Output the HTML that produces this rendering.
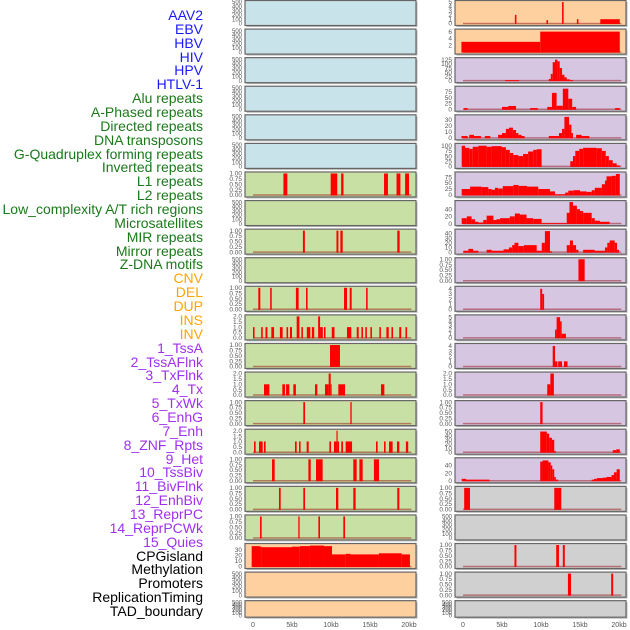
<!DOCTYPE html>
<html><head><meta charset="utf-8">
<style>
html,body{margin:0;padding:0;background:#fff;}
#wrap{position:relative;width:630px;height:630px;overflow:hidden;font-family:"Liberation Sans",sans-serif;}
.lab{position:absolute;right:427px;font-size:14px;line-height:14px;white-space:nowrap;}
svg{position:absolute;left:0;top:0;}
</style></head>
<body>
<div id="wrap">
<svg id="chart" width="630" height="630"></svg>
</div>
<script>
// ---- labels ----
const labelNames = ["AAV2","EBV","HBV","HIV","HPV","HTLV-1","Alu repeats","A-Phased repeats","Directed repeats","DNA transposons","G-Quadruplex forming repeats","Inverted repeats","L1 repeats","L2 repeats","Low_complexity A/T rich regions","Microsatellites","MIR repeats","Mirror repeats","Z-DNA motifs","CNV","DEL","DUP","INS","INV","1_TssA","2_TssAFlnk","3_TxFlnk","4_Tx","5_TxWk","6_EnhG","7_Enh","8_ZNF_Rpts","9_Het","10_TssBiv","11_BivFlnk","12_EnhBiv","13_ReprPC","14_ReprPCWk","15_Quies","CPGisland","Methylation","Promoters","ReplicationTiming","TAD_boundary"];
const labelGroups = ["#1a1aff","#1a7a1a","#ffa500","#a030f0","#000"];
function groupOf(i){return i<6?0:i<19?1:i<24?2:i<39?3:4;}

// ---- panel data: [startKb, endKb, value] ----
const L7=[[3.9,4.4,1],[9.96,10.8,1],[11.3,11.6,1],[16.8,17.3,1],[18.4,18.9,1],[19.5,20.0,1]];
const L9=[[6.4,6.65,1],[10.7,10.95,1],[11.2,11.5,1],[18.5,18.8,1]];
const L11=[[0.68,0.94,1],[2.2,2.4,1],[5.5,5.85,1],[6.8,7.0,1],[11.67,12.05,1],[12.4,12.65,1],[14.5,14.7,1]];
const L12=[[0.0,0.2,1],[1.05,1.25,1],[1.6,1.85,1],[2.35,2.7,1],[3.45,3.8,1],[4.3,4.5,1],[4.74,5.0,1],[5.6,5.95,2],[6.2,6.4,1],[6.9,7.35,1],[7.55,7.85,1],[8.35,8.6,2],[8.6,8.95,1],[9.1,9.3,1],[10.1,10.45,1],[12.05,12.6,1],[13.3,13.55,1],[13.9,14.1,1],[14.4,14.6,1],[15.05,15.25,1],[16.2,16.4,1],[17.1,17.4,1],[17.75,17.95,1],[18.75,19.0,1],[19.55,19.75,1]];
const L13=[[9.87,11.15,1]];
const L14=[[1.41,2.1,1],[3.76,4.1,1],[4.24,4.66,1],[5.17,5.5,1],[7.95,8.25,1],[9.23,9.7,1],[9.7,9.96,2],[9.96,10.08,1],[10.94,11.8,1],[16.41,16.84,1]];
const L15=[[6.45,6.67,1],[12.48,12.65,1]];
const L16=[[0.13,0.34,1],[0.77,1.24,1],[1.41,1.62,1],[5.38,5.6,1],[5.9,6.1,1],[6.88,7.14,1],[9.79,10.0,1],[10.38,10.7,1],[10.7,10.85,2],[10.85,11.03,1],[11.32,11.54,1],[11.88,12.7,1],[15.77,15.98,1],[16.8,17.0,1],[17.44,17.9,1],[18.46,18.76,1],[19.6,19.9,1]];
const L17=[[2.44,2.78,1],[7.1,7.4,1],[8.08,8.93,1],[12.86,13.29,1],[13.64,14.06,1],[15.5,16.15,1]];
const L18=[[3.33,3.55,1],[6.45,6.67,1],[10.64,10.94,1],[12.86,13.16,1],[18.5,18.76,1]];
const L19=[[0.9,1.11,1],[5.81,5.98,1],[8.38,8.59,1],[11.58,11.8,1]];
const L20=[[-0.17,0.9,37],[0.9,1.1,36],[1.1,5.0,35],[5.0,6.0,36],[6.0,7.3,37],[7.3,9.1,38],[9.1,10.13,37],[10.13,11.88,22],[11.88,12.5,23],[12.5,16.15,22],[16.15,19.06,24],[19.06,20.12,22]];

const R1=[[6.65,6.85,2],[10.7,10.9,0.8],[12.7,12.9,5],[14.6,14.8,1],[17.6,20.1,1]];
const R2=[[-0.2,9.9,3],[9.9,20.1,6]];
const R3=[[5.4,7.2,3],[11.0,11.25,10],[11.25,11.5,40],[11.5,11.8,110],[11.8,12.1,125],[12.1,12.4,115],[12.4,12.7,75],[12.7,13.0,35],[13.0,13.3,20],[13.3,13.7,8],[13.7,14.1,3]];
const R4=[[0.1,0.6,5],[5.0,5.8,10],[5.8,6.8,14],[8.6,9.6,5],[10.8,11.4,10],[11.4,12.0,70],[12.0,12.8,15],[12.8,13.5,88],[13.5,14.0,45],[14.0,14.5,10],[19.5,20.1,5]];
const R5=[[-0.2,0.6,3],[0.8,1.4,5],[1.4,2.3,3],[2.8,3.5,3],[4.5,5.0,5],[5.0,5.5,8],[5.5,5.9,15],[5.9,6.4,17],[6.4,6.8,13],[6.8,7.1,8],[7.1,7.5,5],[7.5,7.9,3],[11.0,12.3,3],[12.3,12.7,8],[12.7,13.0,15],[13.0,13.6,35],[13.6,13.9,22],[13.9,14.1,8],[14.5,15.2,5],[15.2,16.2,3]];
const R6=[[-0.17,0.26,100],[0.26,0.8,90],[0.8,1.25,85],[1.25,1.97,95],[1.97,3.03,100],[3.03,3.67,95],[3.67,4.95,98],[4.95,5.5,93],[5.5,6.0,80],[6.0,6.45,65],[6.45,7.1,55],[7.1,7.7,50],[7.7,8.35,60],[8.35,9.0,72],[9.0,9.44,80],[9.44,10.08,83],[13.75,14.1,25],[14.1,14.4,50],[14.4,14.9,75],[14.9,15.4,85],[15.4,17.1,90],[17.1,17.8,88],[17.8,18.3,75],[18.3,18.7,50],[18.7,19.2,30],[19.2,19.7,15],[19.7,20.1,5]];
const R7=[[-0.17,0.9,25],[0.9,2.4,35],[2.4,3.25,33],[3.25,3.67,25],[3.67,4.1,22],[4.1,4.5,30],[4.5,5.1,27],[5.1,6.45,37],[6.45,7.1,42],[7.1,8.2,38],[8.2,9.65,35],[9.65,11.15,25],[11.15,11.8,15],[11.8,13.1,3],[13.1,13.5,10],[13.5,14.15,18],[14.15,15.0,20],[15.0,15.85,15],[15.85,16.5,13],[16.5,16.9,20],[16.9,17.8,30],[17.8,18.2,45],[18.2,18.4,60],[18.4,19.05,78],[19.05,19.6,80],[19.6,20.1,88]];
const R8=[[-0.17,0.48,15],[0.48,1.1,20],[1.1,1.55,12],[1.55,1.97,5],[1.97,2.6,3],[2.6,3.03,10],[3.03,3.9,22],[3.9,4.3,10],[4.3,4.75,12],[4.75,6.0,15],[6.0,6.65,20],[6.65,7.3,28],[7.3,8.15,25],[8.15,9.0,15],[9.0,10.08,13],[10.08,13.3,1],[13.3,13.65,30],[13.65,14.1,60],[14.1,14.6,50],[14.6,15.0,40],[15.0,15.4,35],[15.4,16.5,30],[16.5,16.9,15],[16.9,17.55,8],[17.55,18.8,5]];
const R9=[[0.05,0.7,3],[0.7,1.3,7],[1.3,1.97,3],[3.03,3.67,5],[3.67,5.2,3],[5.2,5.9,6],[5.9,6.3,10],[6.3,6.6,15],[6.6,7.1,20],[7.1,7.8,13],[7.8,9.45,15],[9.45,10.1,3],[10.1,10.5,20],[10.5,11.15,45],[11.15,11.4,2],[13.3,13.7,15],[13.7,14.1,25],[14.1,14.5,15],[14.5,14.8,5],[15.4,16.9,5],[16.9,18.2,3],[18.2,18.5,10],[18.5,18.8,20],[18.8,19.45,25],[19.45,19.75,20],[19.75,20.0,5]];
const R10=[[14.8,15.6,1]];
const R11=[[9.9,10.15,4],[10.15,10.4,3]];
const R12=[[11.8,12.0,2],[12.0,12.45,5],[12.45,12.65,4],[12.65,13.2,1]];
const R13=[[11.5,11.8,4],[11.8,12.1,1],[12.2,12.7,1],[12.95,13.4,1]];
const R14=[[10.8,11.2,1],[11.2,11.65,2]];
const R15=[[9.9,10.2,1]];
const R16=[[9.9,10.75,50],[10.75,11.05,45],[11.05,11.4,35],[11.4,11.7,30],[11.7,11.9,3],[19.2,19.65,5],[19.65,20.1,7]];
const R17=[[-0.17,0.4,5],[0.4,3.4,3],[9.9,10.2,50],[10.2,10.95,53],[10.95,11.25,48],[11.25,11.45,40],[11.45,11.7,30],[11.7,11.9,10],[11.9,12.2,3],[16.5,16.8,3],[16.8,17.15,5],[17.15,17.9,7],[17.9,18.4,8],[18.4,19.05,10],[19.05,19.35,15],[19.35,19.7,22],[19.7,20.1,30]];
const R18=[[0.15,0.9,1],[11.7,12.6,1]];
const R20=[[6.6,6.85,1],[11.95,12.3,1],[12.8,13.05,1]];
const R21=[[13.45,13.85,1],[19.0,19.25,1]];

const leftData=[[],[],[],[],[],[],L7,[],L9,[],L11,L12,L13,L14,L15,L16,L17,L18,L19,L20,[],[]];
const rightData=[R1,R2,R3,R4,R5,R6,R7,R8,R9,R10,R11,R12,R13,R14,R15,R16,R17,R18,[],R20,R21,[]];

// tick label sets
const T500=[0,100,200,300,400,500], T1=[0,0.25,0.5,0.75,1], T2=[0,0.5,1,1.5,2];
const leftTicks=[T500,T500,T500,T500,T500,T500,T1,T500,T1,T500,T1,T2,T1,T2,T1,T2,T1,T1,T1,[0,10,20,30],T500,T500];
const leftMax=[500,500,500,500,500,500,1,500,1,500,1,2,1,2,1,2,1,1,1,39,500,500];
const rightTicks=[[0,1,2,3,4,5],[2,4,6],[0,25,50,75,100,125],[0,25,50,75],[0,10,20,30],[0,25,50,75,100],[0,25,50,75],[0,20,40],[0,10,20,30,40],T1,[0,1,2,3,4],[0,1,2,3,4,5],[0,1,2,3,4],T2,T1,[0,10,20,30,40,50],[0,20,40],T1,T500,T1,T1,T500];
const rightMax=[5,6.3,128,92,36,104,90,60,46,1,4.2,5.2,4.2,2,1,52,56,1,500,1,1,500];
const xTicks=[0,5,10,15,20], xTickLabels=["0","5kb","10kb","15kb","20kb"];

const leftBg=i=>i<6?"#c9e3ea":i<19?"#c8e0a3":"#ffd09f";
const rightBg=i=>i<2?"#ffd09f":i<17?"#d6c6e2":"#d0d0d0";

const NS="http://www.w3.org/2000/svg";
const svg=document.getElementById('chart');
function mk(tag,attrs,parent){const e=document.createElementNS(NS,tag);for(const k in attrs)e.setAttribute(k,attrs[k]);(parent||svg).appendChild(e);return e;}

const wrap=document.getElementById('wrap');
labelNames.forEach((t,i)=>{
  const d=document.createElement('div');
  d.className='lab';
  d.style.top=(8+i*13.86)+'px';
  d.style.color=labelGroups[groupOf(i)];
  d.textContent=t;
  
  
  wrap.appendChild(d);
});

const PITCH=28.58;
function fmt(v,ticks){ if(ticks===T1) return v.toFixed(2); if(ticks===T2) return v.toFixed(1); return String(v);}
function drawPanel(col,i,bars,ticks,ymax,bg){
  const px=col===0?245:455, zeroX=col===0?253:463, kbPx=7.8, w=171;
  const top=0.5+i*PITCH, h=(i===21)?16.5:25;
  const xs=kb=>zeroX+kb*kbPx;
  const y0=top+h-2, y1=top+1.5;
  const ys=v=>y0-(v/ymax)*(y0-y1);
  const g=mk('g',{});
  
  
  mk('rect',{x:px+1.5,y:top+1.5,width:w,height:h,fill:'#b8b8b8'},g);
  mk('rect',{x:px,y:top,width:w,height:h,fill:bg,stroke:'#666',"stroke-width":1.2},g);
  if(bars.length) mk('line',{x1:xs(0),x2:xs(20.3),y1:y0,y2:y0,stroke:'rgba(150,20,20,0.5)',"stroke-width":1.5},g);
  bars.forEach(b=>{
    const r=mk('rect',{x:xs(b[0]),y:ys(b[2]),width:Math.max(0.8,xs(b[1])-xs(b[0])),height:y0-ys(b[2])+0.5,fill:'#ff0000'},g);
    
    
  });
  const fs=(ticks===T500)?6:6.5;
  ticks.forEach(t=>{
    const tx=mk('text',{x:px-3,y:ys(t)+2.2,"font-size":fs,fill:'#555',"text-anchor":'end',"font-family":'Liberation Sans, sans-serif'},g);
    tx.textContent=fmt(t,ticks);
  });
}
for(let i=0;i<22;i++){
  drawPanel(0,i,leftData[i],leftTicks[i],leftMax[i],leftBg(i));
  drawPanel(1,i,rightData[i],rightTicks[i],rightMax[i],rightBg(i));
}
[253,463].forEach((z,c)=>{
  xTicks.forEach((k,j)=>{
    const t=mk('text',{x:z+k*7.8,y:627,"font-size":7,fill:'#555',"text-anchor":'middle',"font-family":'Liberation Sans, sans-serif'});
    t.textContent=xTickLabels[j];
    
    
  });
});
</script>
</body></html>
